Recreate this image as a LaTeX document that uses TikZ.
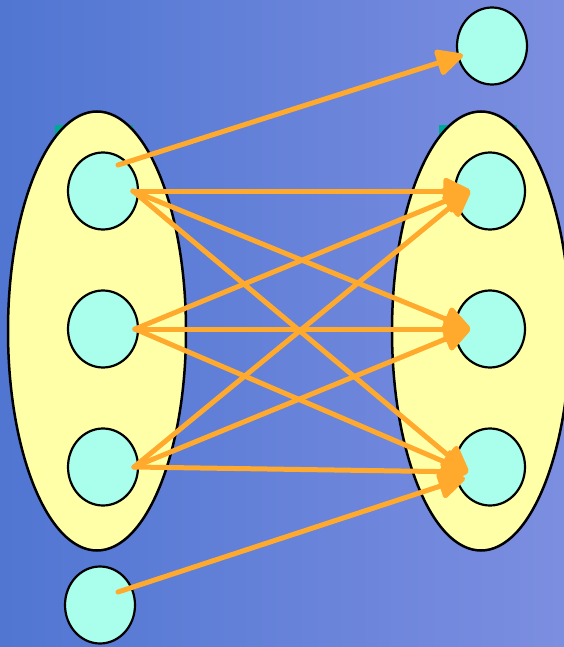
\documentclass[tikz,border=0pt]{standalone}
\usetikzlibrary{arrows.meta,shapes.geometric}

\definecolor{sfondoA}{RGB}{80,118,210}
\definecolor{sfondoB}{RGB}{104,148,222}
\definecolor{sfondoC}{RGB}{124,142,224}
\definecolor{giallo}{RGB}{255,255,168}
\definecolor{ciano}{RGB}{170,255,236}
\definecolor{arancio}{RGB}{255,170,45}
\definecolor{verdeacqua}{RGB}{0,168,150}

\tikzset{
    insieme/.style={ellipse, draw=black, line width=2.5pt, fill=giallo, inner sep=0pt},
    elemento/.style={ellipse, draw=black, line width=2.2pt, fill=ciano, inner sep=0pt,
        minimum width=70pt, minimum height=77pt},
    freccia/.style={draw=arancio, line width=5pt, line cap=round,
        -{Triangle[length=30pt,width=28pt,round]}}
}

\begin{document}
\begin{tikzpicture}[x=1pt, y=-1pt]
        % Sfondo
        \useasboundingbox (0,0) rectangle (564,647);
        \shade[left color=sfondoA, middle color=sfondoB, right color=sfondoC] (0,0) rectangle (564,647);

        % Rettangoli dietro gli insiemi
        \fill[verdeacqua] (55,125) rectangle (133,200);
        \fill[verdeacqua] (439,125) rectangle (517,200);

        % Insiemi
        \node[insieme, minimum width=178pt, minimum height=439pt] (dominio) at (97,331) {};
        \node[insieme, minimum width=178pt, minimum height=439pt] (codominio) at (481,331) {};

        % Elementi a sinistra
        \node[elemento] (a1) at (103,191) {};
        \node[elemento] (a2) at (103,329) {};
        \node[elemento] (a3) at (103,467) {};
        \node[elemento] (a4) at (100,605) {};

        % Elementi a destra
        \node[elemento] (b0) at (492,46) {};
        \node[elemento] (b1) at (490,191) {};
        \node[elemento] (b2) at (490,329) {};
        \node[elemento] (b3) at (490,467) {};

        % Punti di partenza e di arrivo
        \coordinate (p0) at ([xshift=15pt, yshift=26pt]a1.center);
        \coordinate (p1) at ([xshift=30pt]a1.center);
        \coordinate (p2) at ([xshift=32pt]a2.center);
        \coordinate (p3) at ([xshift=31pt]a3.center);
        \coordinate (p4) at ([xshift=18pt, yshift=13pt]a4.center);
        \coordinate (q0) at ([xshift=-29pt, yshift=-9pt]b0.center);
        \coordinate (q1) at ([xshift=-20pt]b1.center);
        \coordinate (q2) at ([xshift=-20pt]b2.center);
        \coordinate (q3) at ([xshift=-22pt, yshift=-5pt]b3.center);
        \coordinate (q4) at ([xshift=-25pt, yshift=-11pt]b3.center);

        % Frecce
        \draw[freccia] (p0) -- (q0);
        \foreach \i in {1,2,3} {
            \foreach \j in {1,2,3} {
                \draw[freccia] (p\i) -- (q\j);
            }
        }
        \draw[freccia] (p4) -- (q4);

    \end{tikzpicture}
\end{document}
